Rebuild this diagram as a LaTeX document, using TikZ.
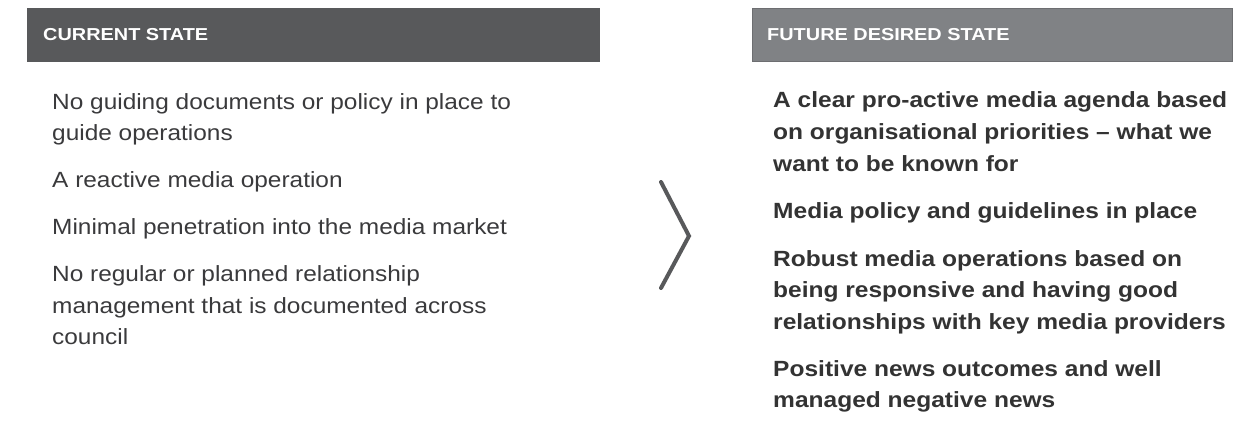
\documentclass[tikz,border=0pt]{standalone}
\usepackage{fontspec}
\setmainfont{Liberation Sans}
\newfontfamily\regf{Liberation Sans}[FakeStretch=1.11]
\newfontfamily\boldf{Liberation Sans}[FakeStretch=1.115]
\newfontfamily\hdrf{Liberation Sans}[FakeStretch=1.15]
\definecolor{hdrdark}{HTML}{58595B}
\definecolor{hdrlight}{HTML}{808285}
\definecolor{hdrborder}{HTML}{6D6E71}
\definecolor{bodytxt}{HTML}{3A3A3C}
\definecolor{boldtxt}{HTML}{333333}
\begin{document}
\begin{tikzpicture}[x=1pt,y=-1pt,
  hdrtext/.style={anchor=base west,inner sep=0pt,text=white,font=\hdrf\bfseries\fontsize{17.3}{20}\selectfont},
  curline/.style={anchor=base west,inner sep=0pt,text=bodytxt,font=\regf\fontsize{22}{30}\selectfont},
  futline/.style={anchor=base west,inner sep=0pt,text=boldtxt,font=\boldf\bfseries\fontsize{22}{30}\selectfont},
  chevron/.style={draw=hdrdark,line width=4pt,line cap=round,line join=miter}]
\useasboundingbox (0,0) rectangle (1255,430);
% header bars
\node[fill=hdrdark,inner sep=0pt,minimum width=573pt,minimum height=54pt,anchor=north west] (curbar) at (27,8) {};
\node[fill=hdrlight,draw=hdrborder,line width=1pt,inner sep=0pt,minimum width=480pt,minimum height=53pt,anchor=north west] (futbar) at (751.5,8.5) {};
\node[hdrtext] (curhdr) at (43,41) {CURRENT STATE};
\node[hdrtext] (futhdr) at (767,41) {FUTURE DESIRED STATE};
% current state
\node[curline] (c1a) at (52,110) {No guiding documents or policy in place to};
\node[curline] (c1b) at (52,141) {guide operations};
\node[curline] (c2) at (52,188) {A reactive media operation};
\node[curline] (c3) at (52,235) {Minimal penetration into the media market};
\node[curline] (c4a) at (52,282) {No regular or planned relationship};
\node[curline] (c4b) at (52,313) {management that is documented across};
\node[curline] (c4c) at (52,344) {council};
% chevron
\coordinate (chtop) at (661,182);
\coordinate (chtip) at (689,236);
\coordinate (chbot) at (661,288);
\draw[chevron] (chtop) -- (chtip) -- (chbot);
% future desired state
\node[futline] (f1a) at (773,108) {A clear pro-active media agenda based};
\node[futline] (f1b) at (773,140) {on organisational priorities – what we};
\node[futline] (f1c) at (773,171.5) {want to be known for};
\node[futline] (f2) at (773,218.5) {Media policy and guidelines in place};
\node[futline] (f3a) at (773,266) {Robust media operations based on};
\node[futline] (f3b) at (773,297.5) {being responsive and having good};
\node[futline] (f3c) at (773,329) {relationships with key media providers};
\node[futline] (f4a) at (773,376) {Positive news outcomes and well};
\node[futline] (f4b) at (773,407.5) {managed negative news};
\end{tikzpicture}
\end{document}
